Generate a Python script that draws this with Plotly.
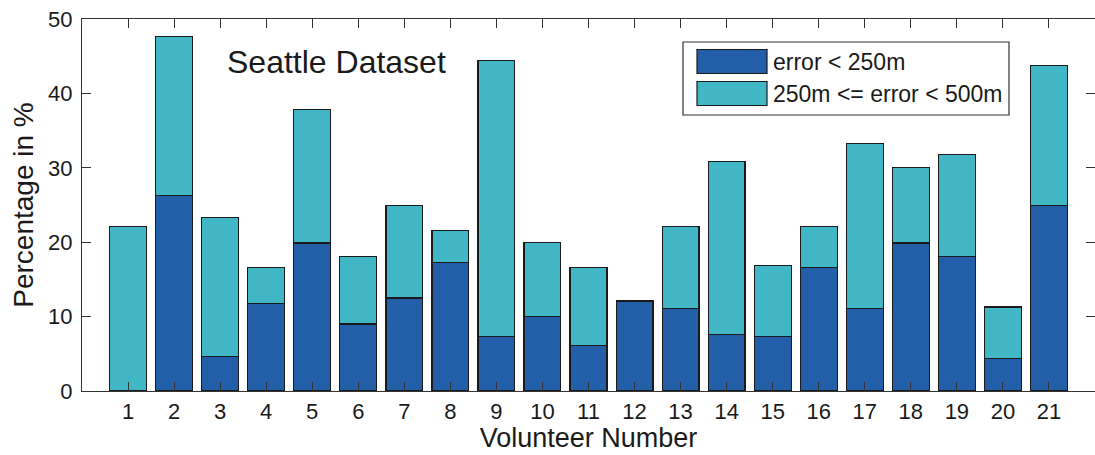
import plotly.graph_objects as go

volunteers = list(range(1, 22))
total_pct = [22.1, 47.6, 23.3, 16.6, 37.8, 18.1, 24.9, 21.6, 44.4, 20.0, 16.6,
             12.1, 22.1, 30.8, 16.9, 22.1, 33.3, 30.0, 31.8, 11.3, 43.8]
under_250 = [0.0, 26.3, 4.6, 11.8, 19.9, 9.0, 12.5, 17.3, 7.3, 10.0, 6.1,
             12.1, 11.1, 7.6, 7.3, 16.6, 11.1, 19.9, 18.1, 4.4, 24.9]
between_250_500 = [round(t - u, 2) for t, u in zip(total_pct, under_250)]
series_names = ["error < 250m", "250m <= error < 500m"]
series_colors = ["#235FA8", "#41B6C4"]
y_ticks = [0, 10, 20, 30, 40, 50]

W, H = 1095, 455
ML, MR, MT, MB = 82, 0, 19, 64
PW, PH = W - ML - MR, H - MT - MB


def px_x(px):
    return (px - ML) / PW


def px_y(py):
    return (H - MB - py) / PH


FONT = "Liberation Sans, Arial, Helvetica, sans-serif"
TXT = "#1a1a1a"

fig = go.Figure()
for name, vals, col in zip(series_names, [under_250, between_250_500], series_colors):
    fig.add_trace(go.Bar(
        x=volunteers, y=[v if v > 0 else None for v in vals], name=name,
        marker_color=col, marker_line_color="#1a1a1a", marker_line_width=1.2,
        showlegend=False,
    ))

# custom legend (box + swatches + labels)
shapes = [dict(type="rect", xref="paper", yref="paper",
               x0=px_x(683), x1=px_x(1009), y0=px_y(115), y1=px_y(42),
               line=dict(color="#333", width=1.2), fillcolor="white", layer="above")]
annotations = []
rows = [(49.5, 73.5), (81.5, 105.5)]
for (y0, y1), name, col in zip(rows, series_names, series_colors):
    shapes.append(dict(type="rect", xref="paper", yref="paper",
                       x0=px_x(697), x1=px_x(767), y0=px_y(y1), y1=px_y(y0),
                       line=dict(color="#1a1a1a", width=1.2), fillcolor=col, layer="above"))
    annotations.append(dict(xref="paper", yref="paper", x=px_x(771), y=px_y((y0 + y1) / 2),
                            text=name, showarrow=False, xanchor="left", yanchor="middle",
                            font=dict(family=FONT, size=23, color=TXT)))

annotations.append(dict(xref="paper", yref="paper", x=px_x(336.5), y=px_y(62),
                        text="Seattle Dataset", showarrow=False,
                        xanchor="center", yanchor="middle",
                        font=dict(family=FONT, size=32, color=TXT)))

fig.update_layout(
    width=W, height=H,
    margin=dict(l=ML, r=MR, t=MT, b=MB, autoexpand=False),
    barmode="stack", bargap=0.2,
    plot_bgcolor="white", paper_bgcolor="white",
    font=dict(family=FONT, color=TXT),
    shapes=shapes, annotations=annotations,
)
fig.update_xaxes(
    range=[0, 22], tickmode="array", tickvals=volunteers,
    ticktext=[str(v) for v in volunteers],
    ticks="inside", ticklen=9, tickwidth=1, tickcolor="#333",
    showline=True, linecolor="#333", linewidth=1.2, mirror="ticks",
    showgrid=False, zeroline=False,
    tickfont=dict(size=22, color=TXT),
    title=dict(text="Volunteer Number", font=dict(size=27, color=TXT), standoff=2),
)
fig.update_yaxes(
    range=[0, 50], tickmode="array", tickvals=y_ticks,
    ticks="inside", ticklen=9, tickwidth=1, tickcolor="#333",
    showline=True, linecolor="#333", linewidth=1.2, mirror="ticks",
    showgrid=False, zeroline=False,
    tickfont=dict(size=22, color=TXT), ticklabelstandoff=4,
    title=dict(text="Percentage in %", font=dict(size=28, color=TXT), standoff=6),
)

fig.write_html(
    "out.html",
    config={"displayModeBar": False},
    post_script="document.body.style.margin='0';document.body.style.overflow='hidden';",
)
